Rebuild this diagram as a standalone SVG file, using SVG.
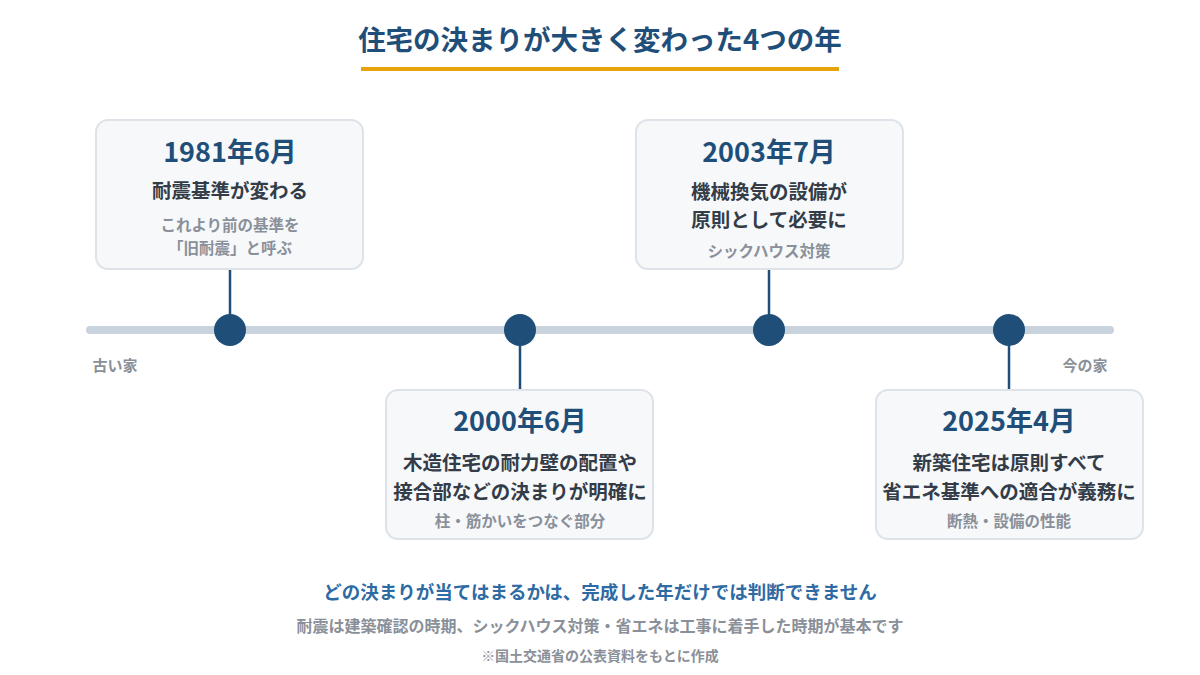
<svg xmlns="http://www.w3.org/2000/svg" width="1200" height="675" viewBox="0 0 1200 675">
<style>
text{font-family:"Noto Sans CJK JP","Noto Sans",sans-serif;text-anchor:middle}
.card{fill:#f6f8fa;stroke:#dde3e9;stroke-width:2}
.yr{font-size:27px;font-weight:700;fill:#1f4e79}
.h{font-size:19.5px;font-weight:700;fill:#333c47}
.s{font-size:15.5px;font-weight:700;fill:#8a9099}
.dot{fill:#1f4e79}
.stem{stroke:#1f4e79;stroke-width:2.5}
</style>
<rect width="1200" height="675" fill="#fff"/>
<text x="600" y="50" font-size="27.5" font-weight="700" fill="#1f4e79">住宅の決まりが大きく変わった4つの年</text>
<rect x="361" y="67" width="478" height="4" fill="#e8a20c"/>
<g id="connectors">
<line x1="90" y1="330" x2="1110" y2="330" stroke="#c9d3dd" stroke-width="8" stroke-linecap="round"/>
<line class="stem" x1="230" y1="269" x2="230" y2="330"/>
<line class="stem" x1="520" y1="330" x2="520" y2="390"/>
<line class="stem" x1="769" y1="269" x2="769" y2="330"/>
<line class="stem" x1="1009" y1="330" x2="1009" y2="390"/>
</g>
<text x="115" y="371" font-size="15" font-weight="700" fill="#8a9099">古い家</text>
<text x="1085" y="371" font-size="15" font-weight="700" fill="#8a9099">今の家</text>
<g id="n1981"><rect class="card" x="96" y="120" width="267" height="149" rx="12"/>
<text class="yr" x="230" y="162">1981年6月</text>
<text class="h" x="230" y="198">耐震基準が変わる</text>
<text class="s" x="230" y="231">これより前の基準を</text>
<text class="s" x="230" y="254">「旧耐震」と呼ぶ</text>
<circle class="dot" cx="230" cy="330" r="16"/></g>
<g id="n2000"><rect class="card" x="386" y="390" width="267" height="149" rx="12"/>
<text class="yr" x="520" y="431">2000年6月</text>
<text class="h" x="520" y="470">木造住宅の耐力壁の配置や</text>
<text class="h" x="520" y="499">接合部などの決まりが明確に</text>
<text class="s" x="520" y="527">柱・筋かいをつなぐ部分</text>
<circle class="dot" cx="520" cy="330" r="16"/></g>
<g id="n2003"><rect class="card" x="636" y="120" width="267" height="149" rx="12"/>
<text class="yr" x="769" y="162">2003年7月</text>
<text class="h" x="769" y="199">機械換気の設備が</text>
<text class="h" x="769" y="227">原則として必要に</text>
<text class="s" x="769" y="257">シックハウス対策</text>
<circle class="dot" cx="769" cy="330" r="16"/></g>
<g id="n2025"><rect class="card" x="876" y="390" width="267" height="149" rx="12"/>
<text class="yr" x="1009" y="431">2025年4月</text>
<text class="h" x="1009" y="470">新築住宅は原則すべて</text>
<text class="h" x="1009" y="499" font-size="16.5">省エネ基準への適合が義務に</text>
<text class="s" x="1009" y="527">断熱・設備の性能</text>
<circle class="dot" cx="1009" cy="330" r="16"/></g>
<text x="600" y="599" font-size="18.5" font-weight="700" fill="#2e6aa3">どの決まりが当てはまるかは、完成した年だけでは判断できません</text>
<text x="600" y="632" font-size="16" font-weight="700" fill="#8a9099">耐震は建築確認の時期、シックハウス対策・省エネは工事に着手した時期が基本です</text>
<text x="600" y="661" font-size="14" font-weight="700" fill="#8a9099">※国土交通省の公表資料をもとに作成</text>
</svg>
